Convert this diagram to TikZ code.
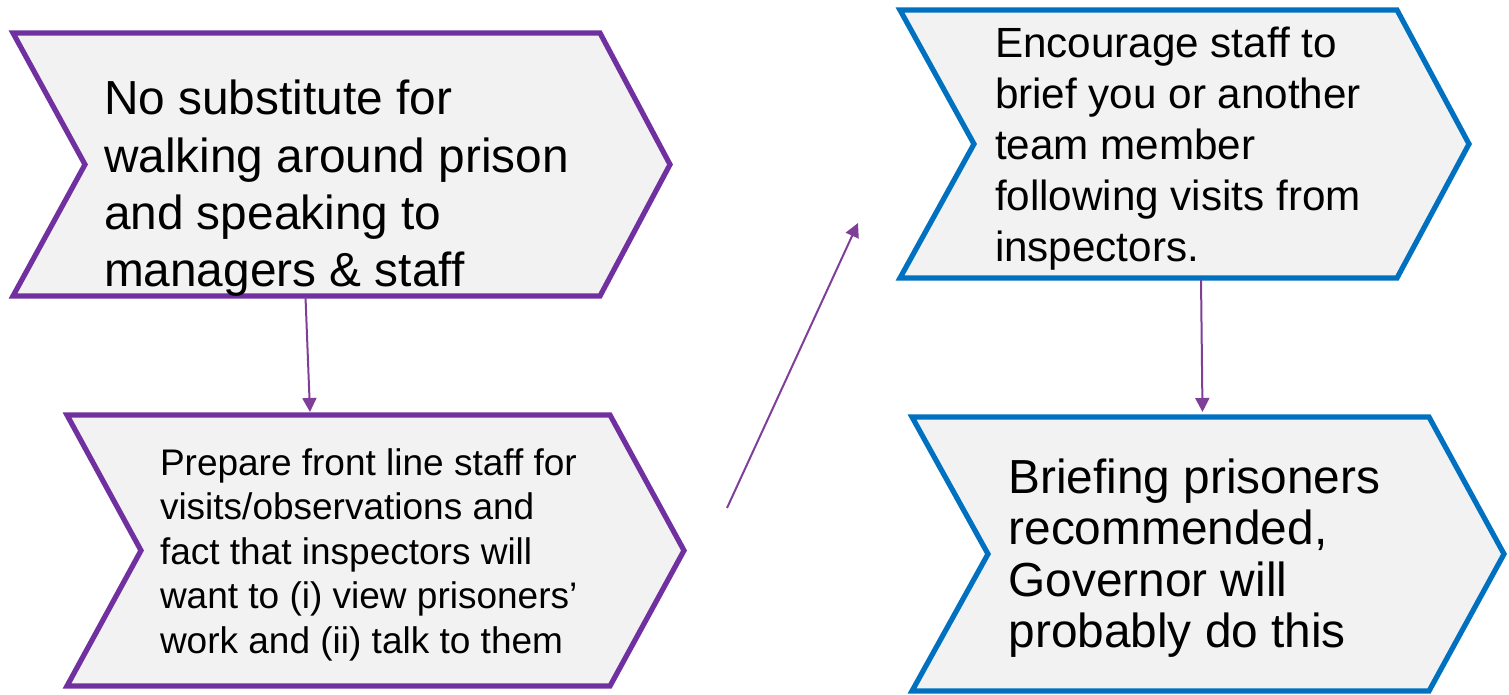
\documentclass[tikz,border=0pt]{standalone}
\usepackage{fontspec}
\setmainfont{Liberation Sans}
\usetikzlibrary{arrows.meta}
\definecolor{purpborder}{HTML}{7030A0}
\definecolor{blueborder}{HTML}{0070C0}
\definecolor{arrowpurp}{HTML}{7F3F98}
\definecolor{boxfill}{HTML}{F2F2F2}
\tikzset{
  chevP/.style={draw=purpborder, fill=boxfill, line width=5.2pt, line join=miter},
  chevB/.style={draw=blueborder, fill=boxfill, line width=5.2pt, line join=miter},
  boxtext/.style={anchor=base west, inner sep=0pt, outer sep=0pt, text=black},
  link/.style={draw=arrowpurp, line width=2pt, -{Triangle[length=14pt,width=14pt]}}
}
\begin{document}
\begin{tikzpicture}[x=1pt,y=-1pt]
\useasboundingbox (0,0) rectangle (1509,695);
% chevrons
\draw[chevP] (13,33) -- (600,33) -- (670,164.5) -- (600,296) -- (13,296) -- (85,164.5) -- cycle;
\draw[chevP] (67,415) -- (610,415) -- (684,550.5) -- (610,686) -- (67,686) -- (141,550.5) -- cycle;
\draw[chevB] (900,10) -- (1397,10) -- (1469,144) -- (1397,278) -- (900,278) -- (974,144) -- cycle;
\draw[chevB] (912,417) -- (1429,417) -- (1504,554) -- (1429,691) -- (912,691) -- (988,554) -- cycle;
% texts
\node[boxtext] (t1) at (104,115) {\parbox[t]{560pt}{\raggedright\fontsize{47.8}{57.2}\selectfont No substitute for\\walking around prison\\and speaking to\\managers \& staff}};
\node[boxtext] (t2) at (160,475) {\parbox[t]{500pt}{\raggedright\fontsize{37}{44.6}\selectfont Prepare front line staff for\\visits/observations and\\fact that inspectors will\\want to (i) view prisoners’\\work and (ii) talk to them}};
\node[boxtext] (t3) at (995,58) {\parbox[t]{460pt}{\raggedright\fontsize{42.2}{51}\selectfont Encourage staff to\\brief you or another\\team member\\following visits from\\inspectors.}};
\node[boxtext] (t4) at (1008.5,493) {\parbox[t]{460pt}{\raggedright\fontsize{47.8}{51.5}\selectfont Briefing prisoners\\recommended,\\Governor will\\probably do this}};
% connector end points
\coordinate (a1s) at (305.5,297);
\coordinate (a1e) at (310,412);
\coordinate (a2s) at (727,508);
\coordinate (a2e) at (858,223);
\coordinate (a3s) at (1201,279);
\coordinate (a3e) at (1202.5,412);
\draw[link] (a1s) -- (a1e);
\draw[link] (a2s) -- (a2e);
\draw[link] (a3s) -- (a3e);
\end{tikzpicture}
\end{document}
